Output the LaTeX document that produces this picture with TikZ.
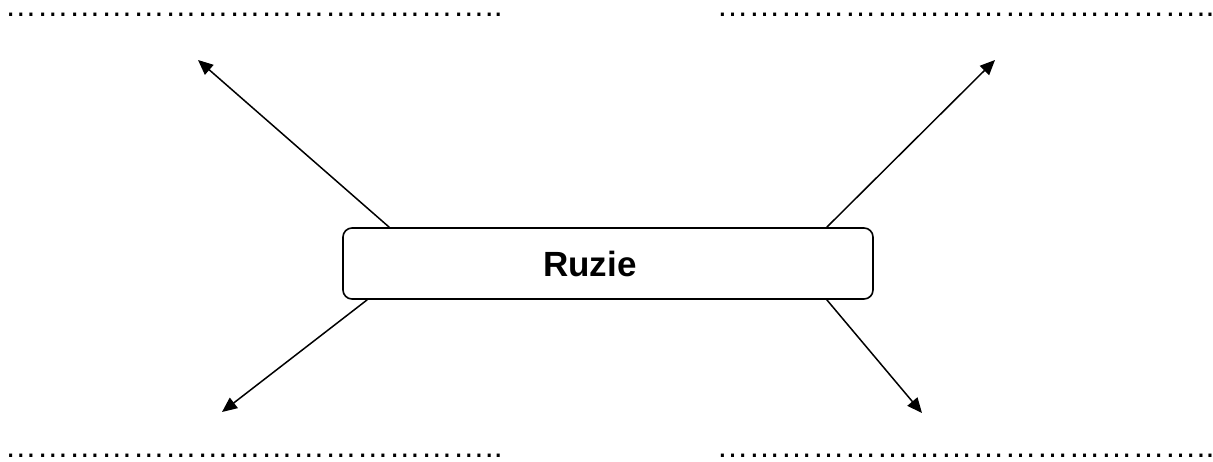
\documentclass[tikz,border=0pt]{standalone}
\usepackage{fontspec}
\setmainfont{Liberation Sans}
\usetikzlibrary{arrows.meta}
\newcommand{\fivedots}{……………}
\begin{document}
\begin{tikzpicture}[x=1pt,y=-1pt,
  dots/.style={anchor=base west,inner sep=0pt,text height=4pt,text depth=0pt,font=\fontsize{32}{32}\selectfont},
  mainbox/.style={draw,line width=1.6pt,rounded corners=9pt,minimum width=530pt,minimum height=71pt,inner sep=0pt},
  arr/.style={line width=1.5pt,-{Triangle[length=15pt,width=13pt]}}]
\useasboundingbox (0,0) rectangle (1213,461);
\node[mainbox] (box) at (608,263.5) {};
\node[inner sep=0pt,font=\fontsize{35}{35}\selectfont\bfseries] (lbl) at (590,264) {Ruzie};
\node[dots] (d1) at (4.7,16) {\fivedots\fivedots\fivedots..};
\node[dots] (d2) at (716.4,16) {\fivedots\fivedots\fivedots..};
\node[dots] (d3) at (4.7,457.6) {\fivedots\fivedots\fivedots..};
\node[dots] (d4) at (716.4,457.6) {\fivedots\fivedots\fivedots..};
\coordinate (e1) at (198,60);
\coordinate (e2) at (995,60);
\coordinate (e3) at (222,412);
\coordinate (e4) at (922,413);
\draw[arr] ([xshift=47pt]box.north west) -- (e1);
\draw[arr] ([xshift=-47pt]box.north east) -- (e2);
\draw[arr] ([xshift=25pt]box.south west) -- (e3);
\draw[arr] ([xshift=-47pt]box.south east) -- (e4);
\end{tikzpicture}
\end{document}
